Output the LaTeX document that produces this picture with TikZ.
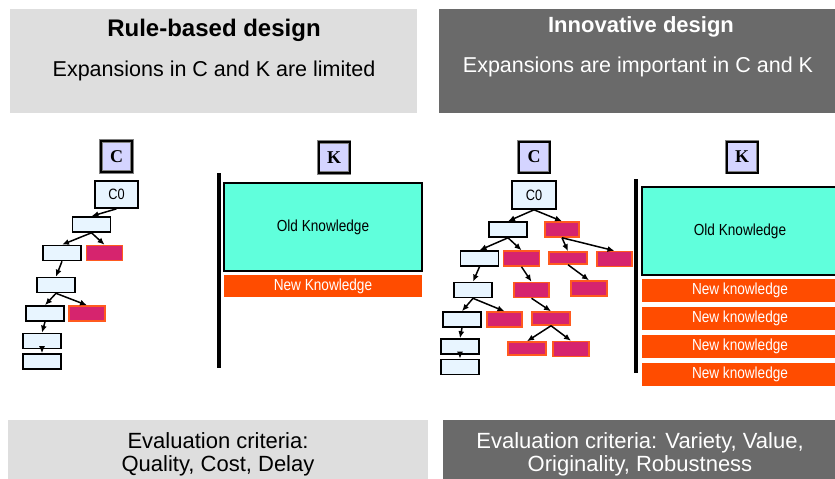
\documentclass[tikz,border=0pt]{standalone}
\usepackage{fontspec}
\setmainfont{Liberation Sans}
\newfontfamily\narrowfont[FakeStretch=0.85]{Liberation Sans}
\newfontfamily\seriffont{Liberation Serif}
\usetikzlibrary{arrows.meta, positioning}

\definecolor{lightbg}{HTML}{DEDEDE}
\definecolor{darkbg}{HTML}{6A6A6A}
\definecolor{conceptblue}{HTML}{E8F5FF}
\definecolor{newconcept}{HTML}{D6246E}
\definecolor{newborder}{HTML}{FF5A1F}
\definecolor{oldknow}{HTML}{60FFDC}
\definecolor{newknow}{HTML}{FF4C00}
\definecolor{lavender}{HTML}{D4D4FF}

\begin{document}
\begin{tikzpicture}[>={Latex[length=7pt, width=6pt]}, x=1pt, y=-1pt,
    concept/.style={draw=black, line width=1.6pt, fill=conceptblue,
      minimum width=38pt, minimum height=15pt, inner sep=0pt},
    newc/.style={draw=newborder, line width=1.5pt, fill=newconcept,
      minimum width=36pt, minimum height=15pt, inner sep=0pt},
    rootc/.style={concept, minimum width=43pt, minimum height=27pt,
      font=\narrowfont\fontsize{15}{17}\selectfont},
    spacelabel/.style={draw=gray, double=black, double distance=2pt, line width=0.8pt,
      fill=lavender, minimum size=31pt, inner sep=0pt,
      font=\seriffont\bfseries\fontsize{18}{20}\selectfont},
    oldk/.style={draw=black, line width=1.7pt, fill=oldknow, inner sep=0pt,
      font=\narrowfont\fontsize{16}{18}\selectfont},
    newk/.style={fill=newknow, text=white, inner sep=0pt, minimum height=23pt,
      font=\narrowfont\fontsize{16}{18}\selectfont},
    kbar/.style={line width=4.5pt},
    expand/.style={->, line width=1.5pt}]

    \useasboundingbox (0,0) rectangle (835,479);

    % headers
    \fill[lightbg] (10,9) rectangle (417,113);
    \fill[darkbg] (439,9) rectangle (835,113);
    \node[font=\bfseries\fontsize{24}{28}\selectfont] at (214,30) (ltitle) {Rule-based design};
    \node[font=\fontsize{21.5}{25}\selectfont] at (214,71) (lsub) {Expansions in C and K are limited};
    \node[text=white, font=\bfseries\fontsize{22}{26}\selectfont] at (641,27) (rtitle) {Innovative design};
    \node[text=white, font=\fontsize{21.5}{25}\selectfont] at (638,67) (rsub) {Expansions are important in C and K};

    % footers
    \fill[lightbg] (8,420) rectangle (428,479);
    \fill[darkbg] (443,420) rectangle (835,479);
    \node[align=center, font=\fontsize{22}{23}\selectfont] at (218,454) (lcrit)
        {Evaluation criteria:\\Quality, Cost, Delay};
    \node[align=center, text=white, font=\fontsize{22}{23}\selectfont] at (640,454) (rcrit)
        {Evaluation criteria: Variety, Value,\\Originality, Robustness};

    % rule-based: C side
    \node[spacelabel] at (116.5,156.5) (lC) {C};
    \node[rootc] at (116.5,194.5) (lc0) {C0};
    \node[concept] at (91.5,224.5) (l1) {};
    \node[concept] at (62,253) (l2) {};
    \node[newc] at (104.5,253) (lr1) {};
    \node[concept] at (56,285) (l3) {};
    \node[concept] at (45,313.5) (l4) {};
    \node[newc] at (87,313.5) (lr2) {};
    \node[concept] at (42,341) (l5) {};
    \node[concept] at (42,361.5) (l6) {};

    \foreach \a/\b in {lc0/l1, l1/l2, l1/lr1, l2/l3, l3/l4, l3/lr2, l4/l5, l5/l6} {
        \draw[expand] (\a.south) -- (\b.north);
    };

    % rule-based: K side
    \coordinate (lbartop) at (219,173);
    \coordinate (lbarbot) at (219,368);
    \draw[kbar] (lbartop) -- (lbarbot);
    \node[spacelabel] at (334,157.5) (lK) {K};
    \node[oldk, minimum width=198pt, minimum height=88pt] at (323,227) (lold) {Old Knowledge};
    \node[newk, minimum width=198pt, minimum height=22pt] at (323,286) (lnew) {New Knowledge};

    % innovative: C side
    \node[spacelabel] at (534,157) (rC) {C};
    \node[rootc, minimum width=44pt, minimum height=28pt] at (534,195) (rc0) {C0};
    \node[concept] at (508,229.5) (a1) {};
    \node[newc, minimum width=34pt] at (562,229.5) (r1) {};
    \node[concept] at (479.5,258.5) (a2) {};
    \node[newc] at (521.5,258.5) (r2) {};
    \node[newc, minimum width=38pt, minimum height=12pt] at (568,258) (r3) {};
    \node[newc, minimum width=35pt] at (614.5,259) (r4) {};
    \node[concept] at (473,290) (a3) {};
    \node[newc, minimum width=35pt] at (531.5,290) (r5) {};
    \node[newc] at (589,288.5) (r6) {};
    \node[concept] at (462,319.5) (a4) {};
    \node[newc, minimum width=35pt] at (504.5,319.5) (r7) {};
    \node[newc, minimum width=38pt, minimum height=13pt] at (551,318.5) (r8) {};
    \node[concept] at (460,346.5) (a5) {};
    \node[concept] at (460,367) (a6) {};
    \node[newc, minimum width=38pt, minimum height=13pt] at (527,348.5) (r9) {};
    \node[newc] at (571,349) (r10) {};

    \foreach \a/\b in {rc0/a1, rc0/r1, a1/a2, a1/r2, r1/r3, r1/r4, a2/a3, r2/r5,
                       r3/r6, a3/a4, a3/r7, r5/r8, a4/a5, a5/a6, r8/r9, r8/r10} {
        \draw[expand] (\a.south) -- (\b.north);
    };

    % innovative: K side
    \coordinate (rbartop) at (636,179);
    \coordinate (rbarbot) at (636,373);
    \draw[kbar] (rbartop) -- (rbarbot);
    \node[spacelabel] at (742,157) (rK) {K};
    \node[oldk, minimum width=196pt, minimum height=88pt] at (740,231) (rold) {Old Knowledge};
    \foreach \i/\y in {1/290.5, 2/318.5, 3/346.5, 4/374.5} {
        \node[newk, minimum width=196pt] at (740,\y) (rnew\i) {New knowledge};
    };

\end{tikzpicture}
\end{document}
